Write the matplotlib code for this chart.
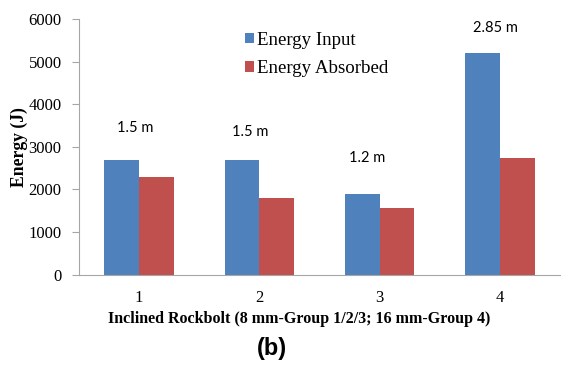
import matplotlib.pyplot as plt
import numpy as np

groups = ['1', '2', '3', '4']
energy_input = [2700, 2700, 1900, 5200]
energy_absorbed = [2300, 1800, 1560, 2750]
lengths = ['1.5 m', '1.5 m', '1.2 m', '2.85 m']

BLUE = '#4F81BD'
RED = '#C0504D'
GREY = '#A6A6A6'

fig = plt.figure(figsize=(5.61, 3.65), dpi=100)
ax = fig.add_axes([79 / 561, 90.3 / 365, 481 / 561, 255.7 / 365])

x = np.arange(len(groups))
w = 0.29
ax.bar(x - w / 2, energy_input, w, color=BLUE, label='Energy Input')
ax.bar(x + w / 2, energy_absorbed, w, color=RED, label='Energy Absorbed')

# length labels, placed by hand above each pair
label_dx = [-0.033, -0.075, -0.104, -0.033]
label_y = [3450, 3340, 2750, 5800]
for xi, txt, dx, yy in zip(x, lengths, label_dx, label_y):
    ax.text(xi + dx, yy, txt, ha='center', va='center', fontsize=10.5, family='Lato')

ax.set_xlim(-0.5, 3.5)
ax.set_ylim(0, 6000)
ax.set_yticks(range(0, 6001, 1000))
ax.set_xticks(x)
ax.set_xticklabels(groups)

for s in ['top', 'right']:
    ax.spines[s].set_visible(False)
ax.spines['left'].set_color(GREY)
ax.spines['bottom'].set_color(GREY)
ax.tick_params(axis='x', length=0, pad=11)
ax.tick_params(axis='y', length=5, color=GREY, pad=7.5)
for lbl in ax.get_xticklabels() + ax.get_yticklabels():
    lbl.set_family('Liberation Serif')
    lbl.set_fontsize(12)

ax.set_ylabel('Energy (J)', family='Liberation Serif', fontsize=12.7, fontweight='bold')
ax.yaxis.set_label_coords(-0.106, 0.5)
ax.set_xlabel('Inclined Rockbolt (8 mm-Group 1/2/3; 16 mm-Group 4)',
              family='Liberation Serif', fontsize=11.5, fontweight='bold')
ax.xaxis.set_label_coords((299 - 79) / 481, -0.143)

ax.legend(loc='upper left', bbox_to_anchor=(0.329, 0.98), frameon=False,
          prop={'family': 'Liberation Serif', 'size': 13.6},
          handlelength=0.5, handleheight=0.5, handletextpad=0.15, labelspacing=0.62,
          borderaxespad=0)

fig.text(272 / 561, 1 - 349 / 365, '(b)', ha='center', va='center',
         family='Liberation Sans', fontsize=17, fontweight='bold')

fig.savefig('out.png', dpi=100)
